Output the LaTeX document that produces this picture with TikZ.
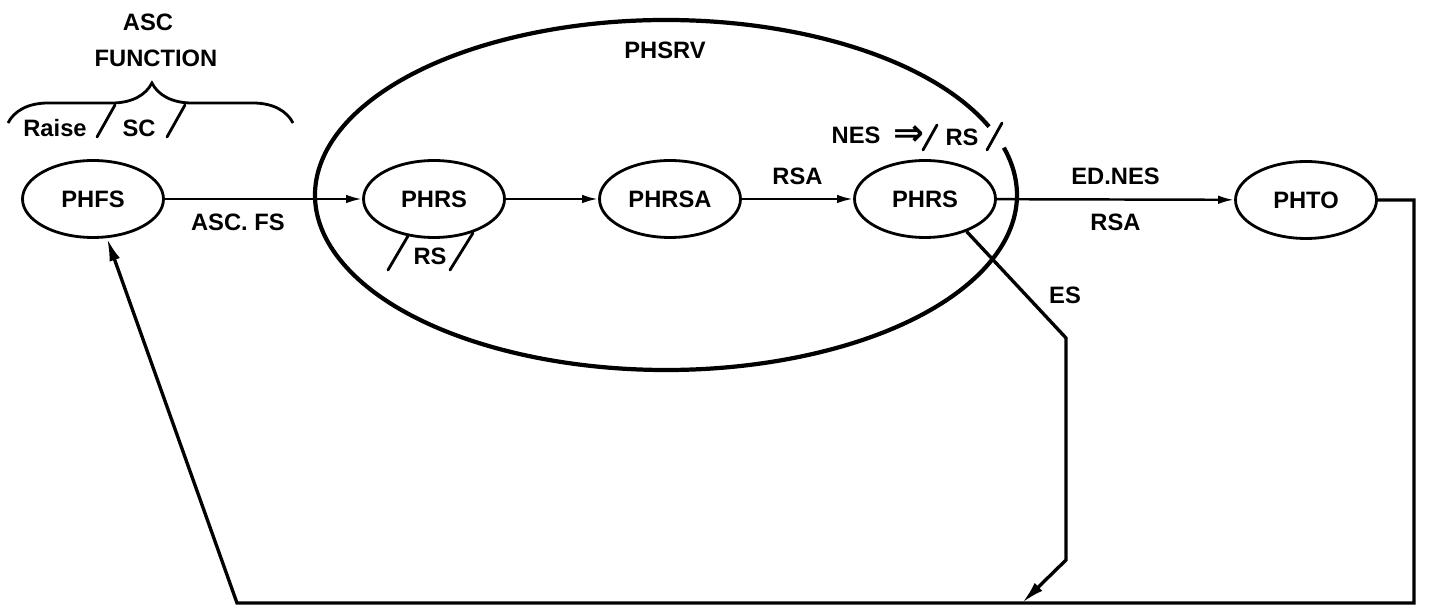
\documentclass[tikz,border=0pt]{standalone}
\usepackage{fontspec}
\setmainfont{Liberation Sans}
\newfontfamily\arrowfont{DejaVu Sans}
\usetikzlibrary{shapes.geometric,arrows.meta,decorations.pathreplacing}

\begin{document}
\begin{tikzpicture}[x=0.02cm,y=-0.02cm,
  every node/.style={font=\fontsize{13.5}{16}\selectfont\bfseries},
  st/.style={draw,ellipse,line width=1.6pt,minimum width=2.82cm,minimum height=1.54cm,inner sep=0pt},
  tip/.style={line width=1.4pt,-{Latex[length=3.2mm,width=1.7mm]}},
  bigtip/.style={line width=1.9pt,-{Latex[length=4.6mm,width=2.2mm]}},
  slash/.style={line width=1.6pt,line cap=round}]
\useasboundingbox (0,0) rectangle (1429,607);

\node[st] (1) at (93,199) {PHFS};
\node[st] (2) at (434,199) {PHRS};
\node[st] (3) at (670,199) {PHRSA};
\node[st] (4) at (925,199) {PHRS};
\node[st] (5) at (1306,200) {PHTO};

% PHSRV
\coordinate (0) at (666,195);
\draw[line width=2.4pt] ([shift={(23:7.02cm and 3.5cm)}]0) arc[start angle=23,end angle=375.7,x radius=7.02cm,y radius=3.5cm];
\node (10) at (665,50) {PHSRV};

% ASC function
\node (6) at (148,22) {ASC};
\node (7) at (156,58) {FUNCTION};
\coordinate (b1) at (8,123);
\coordinate (b2) at (293,123);
\draw[decorate,decoration={brace,amplitude=0.8cm,aspect=0.505},line width=1.6pt] (b1) -- (b2);
\node (8) at (55,128) {Raise};
\node (9) at (139,128) {SC};
\draw[slash] (97,137) -- (115,105);
\draw[slash] (167,137) -- (185,105);

\node (14) at (430,256) {RS};
\draw[slash] (388,270) -- (408,236);
\draw[slash] (450,270) -- (473,233);

\node (11) at (856,135) {NES};
\node (12) at (909,136) {\arrowfont\fontsize{21}{21}\selectfont\bfseries ⇒};
\node (13) at (962,137) {RS};
\draw[slash] (923,150) -- (937,125);
\draw[slash] (987,150) -- (1002,123);

\draw[tip] (1) edge node[below=1.5mm,pos=.37] (l1) {ASC. FS} (2);
\draw[tip] (2) edge (3);
\draw[tip] (3) edge node[above=1.5mm] (l2) {RSA} (4);
\draw[tip] (4) edge node[above=1.5mm] (l3) {ED.NES} node[below=1.5mm] (l4) {RSA} (5);

% ES
\coordinate (e1) at (1066,338);
\coordinate (e2) at (1066,560);
\coordinate (e3) at (1022,603);
\draw[bigtip] (4.-38) -- (e1) -- (e2) -- (e3);
\node (15) at (1065,295) {ES};

% back to PHFS
\coordinate (c1) at (1414,200);
\coordinate (c2) at (1414,603);
\coordinate (c3) at (237,603);
\draw[bigtip] (5) -- (c1) -- (c2) -- (c3) -- (1);

\end{tikzpicture}
\end{document}
